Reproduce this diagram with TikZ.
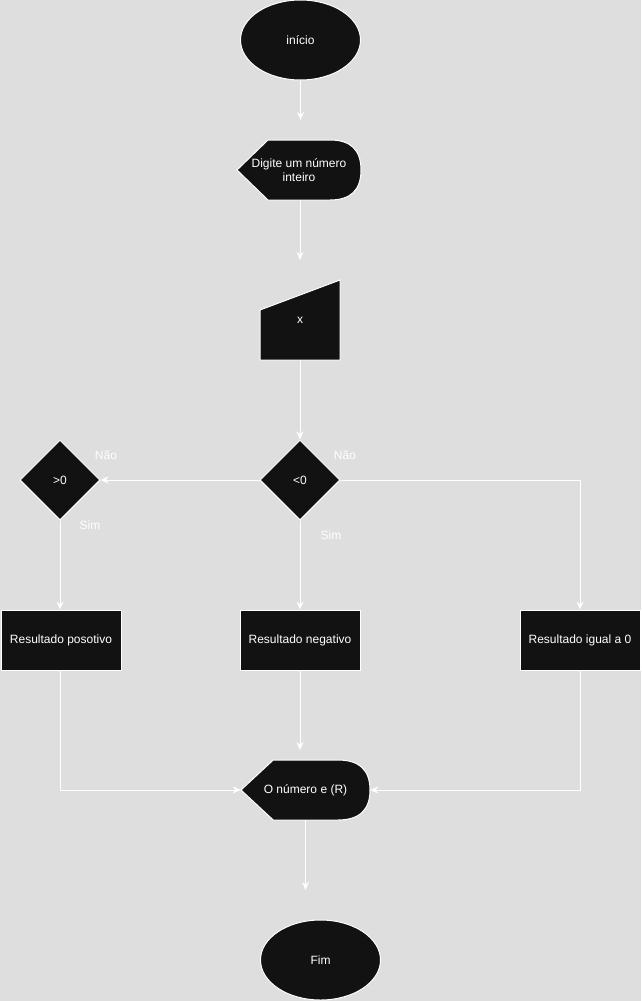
\documentclass[tikz,border=0pt]{standalone}
\usepackage{fontspec}
\setmainfont{Liberation Sans}
\usetikzlibrary{shapes.geometric,arrows.meta,calc}
\definecolor{bg}{HTML}{DEDEDE}
\definecolor{ink}{HTML}{121212}

% display-type flowchart symbol: pointed left end, rounded right end
% #1 name, #2 cx, #3 cy, #4 width, #5 height, #6 text
\newcommand{\dispsym}[6]{%
  \pgfmathsetmacro\dspL{#2-#4/2}%
  \pgfmathsetmacro\dspR{#2+#4/2}%
  \pgfmathsetmacro\dspT{#3-#5/2}%
  \pgfmathsetmacro\dspB{#3+#5/2}%
  \pgfmathsetmacro\dspD{0.25*#4}%
  \path[shapeline] (\dspL,#3) -- (\dspL+\dspD,\dspT) -- (\dspR-\dspD,\dspT)
    .. controls (\dspR-\dspD/3,\dspT) and (\dspR,#3-#5/3) .. (\dspR,#3)
    .. controls (\dspR,#3+#5/3) and (\dspR-\dspD/3,\dspB) .. (\dspR-\dspD,\dspB)
    -- (\dspL+\dspD,\dspB) -- cycle;
  \node[frame, minimum width=#4pt, minimum height=#5pt, align=center] (#1) at (#2,#3) {#6};
}

\begin{document}
\begin{tikzpicture}[x=1pt,y=-1pt,
  every node/.style={font=\fontsize{12}{14.5}\selectfont, text=white},
  shapeline/.style={fill=ink, draw=white, line width=1pt},
  frame/.style={rectangle, inner sep=0pt},
  blob/.style={shapeline, ellipse, minimum width=120pt, minimum height=80pt, inner sep=0pt},
  choice/.style={shapeline, diamond, minimum width=80pt, minimum height=80pt, inner sep=0pt, aspect=1},
  procbox/.style={shapeline, rectangle, minimum width=120pt, minimum height=60pt, inner sep=0pt},
  flow/.style={draw=white, line width=1pt, -{Stealth[length=8pt,width=7pt,inset=2.5pt]}},
  tag/.style={inner sep=0pt}
]
% canvas
\fill[bg] (0,0) rectangle (641,1001);
\useasboundingbox (0,0) rectangle (641,1001);

% terminals
\node[blob] (start) at (300.5,40) {início};
\node[blob] (fim) at (320.5,960) {Fim};

% prompt
\dispsym{ask}{299}{170}{124}{60}{Digite um número\\inteiro}

% manual input
\path[shapeline] (260,310) -- (340,280) -- (340,360) -- (260,360) -- cycle;
\node[frame, minimum width=80pt, minimum height=80pt] (inp) at (300,320) {x};

% decisions
\node[choice] (neg) at (300,480) {<0};
\node[choice] (pos) at (60,480) {>0};

% results
\node[procbox] (rpos) at (61,640) {Resultado posotivo};
\node[procbox] (rneg) at (300,640) {Resultado negativo};
\node[procbox] (rzero) at (580,640) {Resultado igual a 0};

% output
\dispsym{out}{305.5}{790}{129}{60}{O número e (R)}

% branch labels
\node[tag] (posno) at (106,455) {Não};
\node[tag] (posyes) at (90,525) {Sim};
\node[tag] (negno) at (345,455) {Não};
\node[tag] (negyes) at (331,535) {Sim};

% loose connector ends
\coordinate (t1) at (300.5,120);
\coordinate (t2) at (300,260);
\coordinate (t3) at (300,750);
\coordinate (t4) at (305.5,890);

% connectors
\draw[flow] (start.south) -- (t1);
\draw[flow] (ask.south -| t2) -- (t2);
\draw[flow] (inp.south) -- (neg.north);
\draw[flow] (neg.west) -- (pos.east);
\draw[flow] (neg.east) -| (rzero.north);
\draw[flow] (pos.south) -- (pos.south |- rpos.north);
\draw[flow] (neg.south) -- (rneg.north);
\draw[flow] (rpos.south -| pos.south) |- (out.west);
\draw[flow] (rneg.south) -- (t3);
\draw[flow] (rzero.south) |- (out.east);
\draw[flow] (out.south) -- (t4);
\end{tikzpicture}
\end{document}
